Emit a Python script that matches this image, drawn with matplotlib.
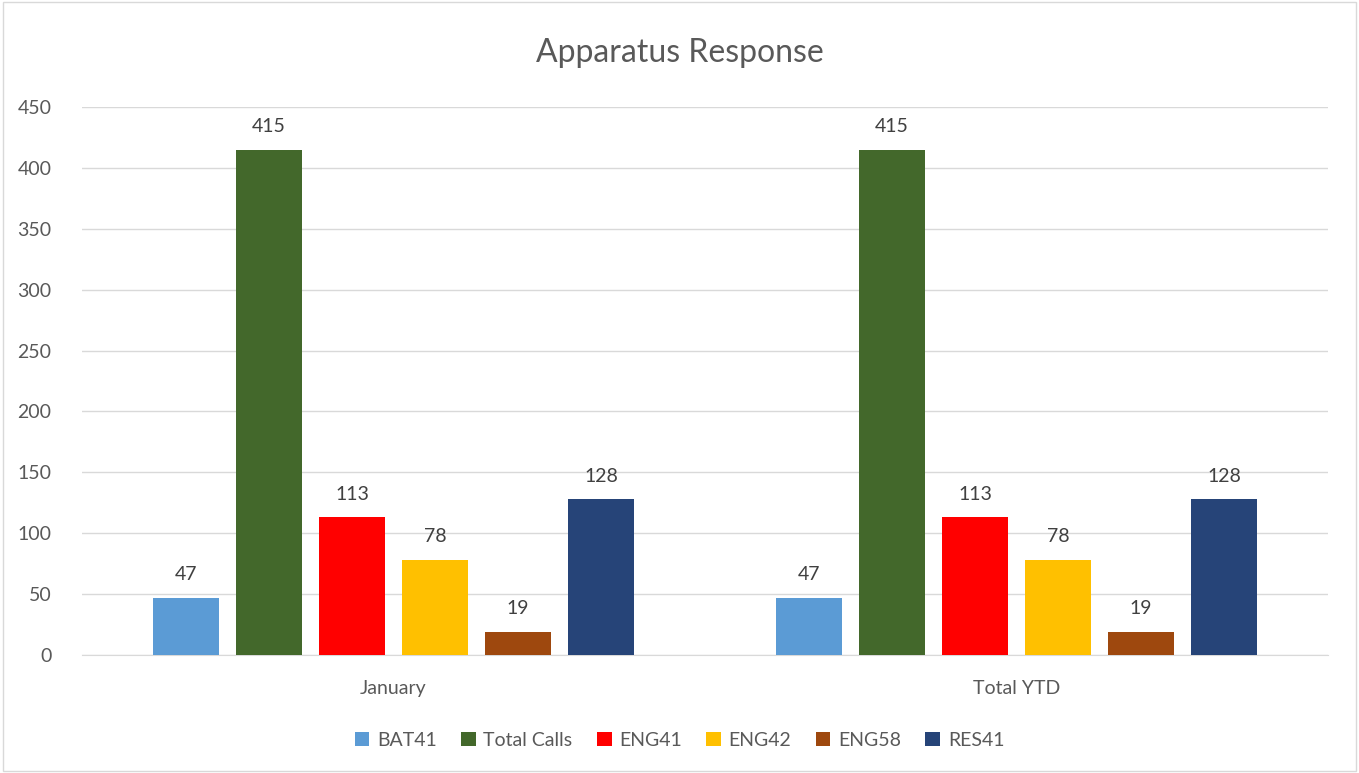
import matplotlib.pyplot as plt
import numpy as np
from matplotlib.patches import Rectangle

# --- data ---
categories = ["January", "Total YTD"]
series = ["BAT41", "Total Calls", "ENG41", "ENG42", "ENG58", "RES41"]
bat41 = [47, 47]
total_calls = [415, 415]
eng41 = [113, 113]
eng42 = [78, 78]
eng58 = [19, 19]
res41 = [128, 128]
values = [bat41, total_calls, eng41, eng42, eng58, res41]
colors = ["#5B9BD5", "#43682B", "#FF0000", "#FFC000", "#9E480E", "#264478"]

plt.rcParams['font.family'] = ['Lato', 'DejaVu Sans']
txt = "#595959"

fig = plt.figure(figsize=(13.59, 7.73), dpi=100)
ax = fig.add_axes([82 / 1359, 1 - 655 / 773, 1246 / 1359, 548 / 773])

x = np.arange(len(categories))
width = 66 / 623
step = 83 / 623
for i, (name, vals, c) in enumerate(zip(series, values, colors)):
    pos = x + (i - 2.5) * step
    bars = ax.bar(pos, vals, width, color=c, label=name, zorder=3)
    for b, v in zip(bars, vals):
        ax.text(b.get_x() + b.get_width() / 2, v + 12, str(v), ha="center",
                va="bottom", fontsize=14, color="#404040")

ax.set_xlim(-0.5, 1.5)
ax.set_ylim(0, 450)
ax.set_yticks(range(0, 451, 50))
ax.set_xticks(x)
ax.set_xticklabels(categories)
ax.grid(axis="y", color="#D9D9D9", linewidth=1, zorder=0)
for s in ["top", "right", "left"]:
    ax.spines[s].set_visible(False)
ax.spines["bottom"].set_color("#D9D9D9")
ax.tick_params(axis="both", length=0, labelsize=14, colors=txt)
ax.tick_params(axis="x", pad=18)
ax.tick_params(axis="y", pad=22)

fig.text(0.5, 1 - 53 / 773, "Apparatus Response", ha="center", va="center",
         fontsize=23, color=txt)

fig.legend(loc="center", bbox_to_anchor=(0.5, 1 - 740 / 773), ncol=6,
           frameon=False, fontsize=14, handlelength=0.75, handleheight=0.75,
           handletextpad=0.4, columnspacing=1.25, labelcolor=txt)

fig.patches.append(Rectangle((0.002, 0.002), 0.996, 0.996, transform=fig.transFigure,
                             fill=False, edgecolor="#D9D9D9", linewidth=1))

fig.savefig("out.png", dpi=100)
